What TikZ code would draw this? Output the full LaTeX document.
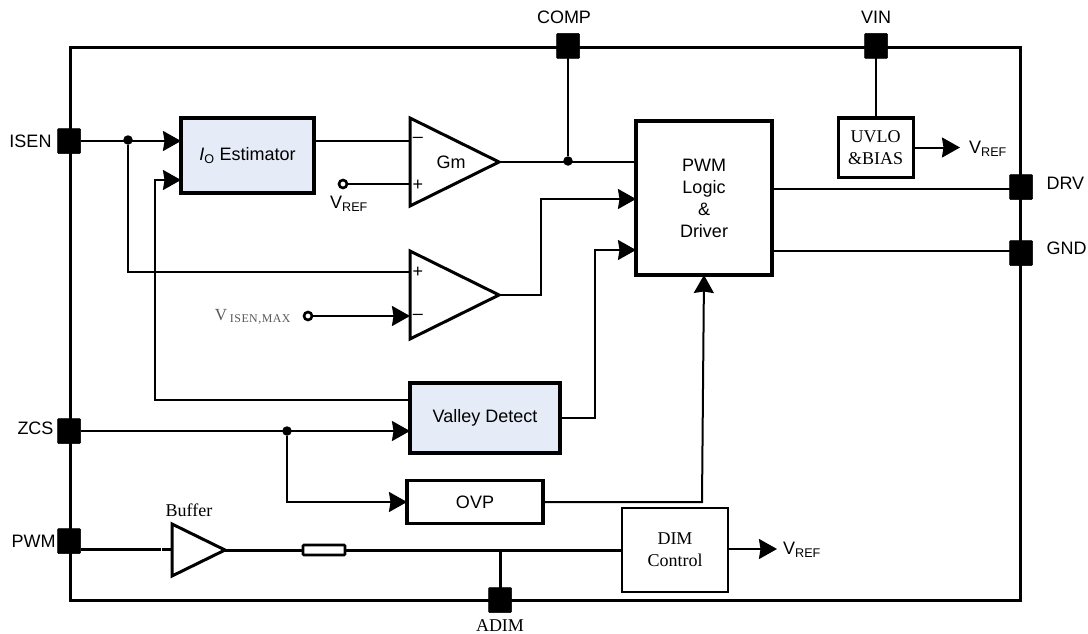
\documentclass[tikz,border=0pt]{standalone}
\usepackage{fontspec}
\setmainfont{Liberation Sans}
\newfontfamily\serifrm{Liberation Serif}
\newfontfamily\serifspaced[LetterSpace=4]{Liberation Serif}
\usepackage{tikz}
\usetikzlibrary{arrows.meta,calc,positioning,shapes.geometric}
\definecolor{blocfill}{HTML}{E6ECF7}
\newcommand{\vref}{V\textsubscript{REF}}

\begin{document}
\begin{tikzpicture}[
		x=1pt, y=-1pt,
		every node/.style={font=\fontsize{18}{22}\selectfont, inner sep=0pt, outer sep=0pt},
		chip/.style={draw, line width=3pt, minimum width=950pt, minimum height=552pt},
		pinbox/.style={draw, fill=black, line width=0.5pt, rounded corners=1pt, minimum width=23pt, minimum height=25pt},
		bloc/.style={draw, line width=3.2pt, align=center},
		blocfin/.style={draw, line width=2pt, align=center, font=\fontsize{18}{22}\selectfont\serifrm},
		ampli/.style={draw, isosceles triangle, isosceles triangle stretches, line width=3pt, anchor=lower side, fill=white},
		jonction/.style={circle, fill=black, minimum size=9.5pt},
		borne/.style={circle, draw, fill=white, line width=2.6pt, minimum size=8pt},
		wire/.style={line width=2pt},
		bus/.style={line width=3pt},
		>={Stealth[length=18pt,width=20pt,inset=1.5pt]}
		]
		
		\useasboundingbox (0,0) rectangle (1088,634);
		
		% Le boitier
		\node[chip] (C) at (545,324) {};
		
		% Les broches
		\node[pinbox] (isen) at (69,141) {};
		\node[pinbox] (zcs) at (69,431) {};
		\node[pinbox] (pwm) at (69,541) {};
		\node[pinbox] (comp) at (568,46) {};
		\node[pinbox] (vin) at (876,46) {};
		\node[pinbox] (drv) at (1021,187) {};
		\node[pinbox] (gnd) at (1021,253) {};
		\node[pinbox] (adim) at (500,600) {};
		\node[left=6pt of isen] (isenlabel) {ISEN};
		\node[left=4pt of zcs, yshift=3pt] (zcslabel) {ZCS};
		\node[left=2pt of pwm] (pwmlabel) {PWM};
		\node[above=10pt of comp, xshift=-4pt] (complabel) {COMP};
		\node[above=10pt of vin] (vinlabel) {VIN};
		\node[right=14pt of drv, yshift=4pt] (drvlabel) {DRV};
		\node[right=14pt of gnd, yshift=5pt] (gndlabel) {GND};
		\node[below=7pt of adim, font=\fontsize{18}{22}\selectfont\serifrm] (adimlabel) {ADIM};
		
		% Les blocs
		\node[bloc, fill=blocfill, minimum width=133pt, minimum height=75pt] (estim) at (247.5,155.5) {\textit{I}\textsubscript{O} Estimator};
		\node[bloc, minimum width=136pt, minimum height=154pt] (logic) at (704,198) {PWM\\Logic\\\&\\Driver};
		\node[bloc, fill=blocfill, minimum width=150pt, minimum height=70pt] (valley) at (485,418) {Valley Detect};
		\node[bloc, minimum width=136pt, minimum height=43pt] (ovp) at (475,502) {\raisebox{-3pt}{OVP}};
		\node[bloc, line width=3pt, font=\fontsize{18}{22}\selectfont\serifrm, minimum width=75pt, minimum height=59pt] (uvlo) at (875.5,147.5) {UVLO\\\&BIAS};
		\node[blocfin, minimum width=106pt, minimum height=84pt] (dim) at (675,550) {DIM\\Control};
		\node[draw, line width=2.6pt, rounded corners=1pt, minimum width=42pt, minimum height=10pt] (res) at (324,550) {};
		
		% Les amplis
		\node[ampli, minimum width=88pt, minimum height=89pt] (gm) at (410,162) {};
		\node[ampli, minimum width=88pt, minimum height=89pt] (cmp) at (410,295) {};
		\node[ampli, minimum width=52pt, minimum height=53pt] (buf) at (172,550) {};
		\node (gmlabel) at (451,162) {Gm};
		\node (gmminus) at (418,140) {\textendash};
		\node (gmplus) at (418,185) {+};
		\node (cmpplus) at (418,272) {+};
		\node (cmpminus) at (418,317) {\textendash};
		\node[font=\fontsize{18}{22}\selectfont\serifrm] (buflabel) at (189,510) {Buffer};
		
		% Les bornes et les jonctions
		\node[borne] (vrefa) at (343,184) {};
		\node[borne] (vmax) at (308,316) {};
		\node[jonction] (ja) at (128,140) {};
		\node[jonction] (jb) at (568,161) {};
		\node[jonction] (jc) at (287,431) {};
		\coordinate (ad) at (500,550);
		\coordinate (uvloend) at (960,147.5);
		\coordinate (dimend) at (777,549);
		
		% Les textes des sorties
		\node (vrefalabel) at (349,204) {\vref};
		\node (vrefb) at (988,149) {\vref};
		\node (vrefc) at (802,550) {\vref};
		\node[anchor=east, font=\fontsize{17}{20}\selectfont\serifspaced, text=black!65] (vmaxlabel) at (291,317) {V\,\textsubscript{ISEN,MAX}};
		
		% Les fils
		\draw[wire, ->] (isen.east) -- (estim.west |- isen);
		\draw[wire] (ja) |- (gm.lower side |- cmpplus);
		\draw[wire] (estim.east |- 0,141) -- (gm.lower side |- 0,141);
		\draw[wire] (vrefa) -- (gm.lower side |- vrefa);
		\draw[wire, ->] (vmax) -- (cmp.lower side |- vmax);
		\draw[wire] (gm.apex) -- (logic.west |- gm.apex);
		\draw[wire] (comp) -- (jb);
		\draw[wire] (vin) -- (uvlo.north -| vin);
		\draw[wire, ->] (uvlo.east) -- (uvloend);
		\draw[wire] (drv.west |- 0,189) -- (logic.east |- 0,189);
		\draw[wire] (gnd.west |- 0,251) -- (logic.east |- 0,251);
		\draw[wire, ->] (cmp.apex) -- (541,295) |- (logic.west |- 0,199);
		\draw[wire, ->] (valley.east) -- (595,418) |- (logic.west |- 0,250);
		\draw[wire, ->] (valley.west |- 0,400) -- (155,400) |- (estim.west |- 0,180);
		\draw[wire, ->] (zcs.east) -- (valley.west |- zcs);
		\draw[wire, ->] (jc) |- (ovp.west);
		\draw[wire, ->] (ovp.east) -- (702,502) -- (logic.south);
		\draw[bus] (pwm.east |- 0,549) -- (160.5,549);
		\draw[bus] (162,549) -- (buf.lower side |- 0,549);
		\draw[bus] (buf.apex) -- (res.west);
		\draw[bus] (res.east) -- (dim.west);
		\draw[bus] (ad) -- (adim);
		\draw[wire, ->] (dim.east |- dimend) -- (dimend);
		
	\end{tikzpicture}
\end{document}
